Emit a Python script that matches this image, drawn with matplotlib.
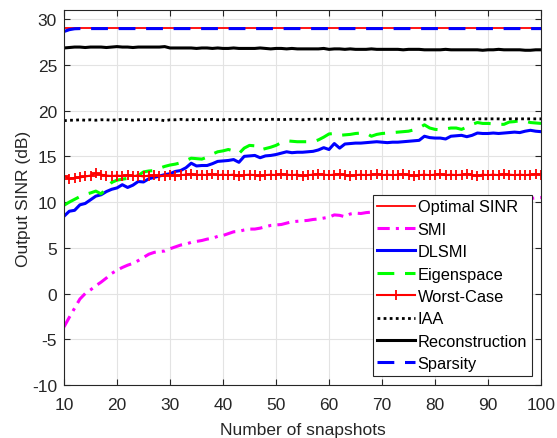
import matplotlib
matplotlib.use("Agg")
import matplotlib.pyplot as plt
import numpy as np

plt.rcParams['font.family'] = ['Liberation Sans', 'DejaVu Sans']
plt.rcParams['axes.unicode_minus'] = False

snapshots = list(range(10, 101))

optimal_sinr = [29.05] * len(snapshots)

smi = [-3.65, -2.6, -1.6, -0.6, 0.0, 0.4, 0.85, 1.25, 1.7, 2.2,
       2.55, 2.85, 3.1, 3.3, 3.6, 3.95, 4.3, 4.5, 4.6, 4.65,
       4.9, 5.1, 5.3, 5.4, 5.6, 5.7, 5.8, 5.95, 6.05, 6.25,
       6.35, 6.55, 6.75, 6.8, 6.95, 7.05, 7.05, 7.15, 7.3, 7.45,
       7.5, 7.55, 7.7, 7.85, 7.9, 7.95, 8.0, 8.1, 8.15, 8.25,
       8.35, 8.6, 8.55, 8.4, 8.7, 8.8, 8.75, 8.85, 8.9, 9.0,
       9.05, 9.1, 9.15, 9.2, 9.3, 9.35, 9.4, 9.45, 9.5, 9.55,
       9.6, 9.65, 9.7, 9.75, 9.8, 9.85, 9.9, 9.95, 9.95, 10.0,
       10.05, 10.1, 10.1, 10.15, 10.2, 10.25, 10.3, 10.35, 10.4, 10.45,
       10.5]

dlsmi = [8.45, 9.0, 9.1, 9.7, 9.85, 10.25, 10.65, 10.8, 11.15, 11.4,
         11.55, 11.9, 11.6, 11.85, 12.25, 12.2, 12.55, 12.7, 12.85, 13.0,
         13.1, 13.35, 13.45, 13.75, 14.25, 13.95, 14.0, 14.0, 14.2, 14.45,
         14.5, 14.55, 14.65, 14.35, 15.0, 15.05, 15.1, 14.85, 15.05, 15.1,
         15.2, 15.35, 15.5, 15.4, 15.45, 15.45, 15.5, 15.55, 15.7, 15.95,
         15.75, 16.4, 15.9, 16.35, 16.4, 16.45, 16.45, 16.5, 16.55, 16.6,
         16.55, 16.5, 16.55, 16.55, 16.6, 16.65, 16.7, 16.75, 17.2, 17.05,
         17.0, 17.0, 16.9, 17.2, 17.25, 17.3, 17.15, 17.3, 17.55, 17.5,
         17.5, 17.55, 17.5, 17.55, 17.6, 17.65, 17.6, 17.75, 17.85, 17.75,
         17.7]

eigenspace = [9.65, 10.0, 10.3, 10.6, 10.85, 11.0, 11.2, 10.9, 11.5, 12.15,
              12.4, 12.5, 12.6, 12.75, 12.9, 13.3, 13.4, 13.45, 13.7, 13.9,
              14.05, 14.15, 14.3, 14.55, 14.8, 14.75, 14.7, 14.9, 15.25, 15.5,
              15.6, 15.75, 15.6, 15.3, 15.9, 16.2, 16.15, 15.7, 15.85, 16.0,
              16.2, 16.5, 16.7, 16.65, 16.6, 16.6, 16.6, 16.6, 16.8, 17.1,
              17.45, 17.5, 17.3, 17.35, 17.4, 17.5, 17.55, 17.55, 17.2, 17.4,
              17.5, 17.55, 17.6, 17.65, 17.7, 17.75, 17.9, 18.1, 18.45, 18.1,
              17.95, 17.9, 18.0, 18.1, 18.1, 17.95, 18.2, 18.5, 18.7, 18.6,
              18.6, 18.55, 18.5, 18.5, 18.75, 18.8, 18.9, 18.85, 18.7, 18.65,
              18.6]

worst_case = [12.85, 12.55, 12.65, 12.7, 12.8, 12.9, 13.15, 13.0, 12.9, 12.85,
              12.9, 12.85, 12.95, 12.85, 12.9, 12.8, 12.9, 12.95, 12.85, 12.9,
              12.95, 12.9, 12.95, 13.0, 13.05, 12.95, 13.0, 12.95, 13.05, 12.95,
              13.0, 12.95, 13.0, 12.9, 12.95, 13.0, 12.95, 12.9, 12.95, 13.0,
              12.95, 13.05, 13.0, 12.95, 13.0, 12.9, 12.95, 13.0, 13.05, 13.0,
              12.95, 13.0, 13.05, 12.95, 12.9, 12.95, 13.0, 12.95, 13.0, 13.05,
              12.95, 13.0, 12.95, 13.0, 13.05, 12.95, 12.9, 12.95, 13.0, 12.95,
              13.0, 13.05, 12.95, 13.0, 12.95, 13.0, 13.05, 12.95, 12.9, 13.0,
              12.95, 13.0, 12.95, 13.05, 13.0, 12.95, 13.0, 12.95, 13.0, 13.05,
              13.0]

iaa = [18.9, 18.95, 18.95, 19.0, 18.95, 19.0, 18.95, 19.0, 19.0, 18.95,
       19.0, 19.05, 19.0, 18.95, 19.0, 19.0, 19.05, 19.0, 19.0, 18.9,
       19.0, 19.0, 19.05, 19.0, 19.0, 19.05, 19.0, 19.0, 19.05, 19.0,
       19.0, 19.05, 19.0, 19.05, 19.05, 19.0, 19.05, 19.05, 19.0, 19.05,
       19.05, 19.0, 19.05, 19.05, 19.05, 19.0, 19.05, 19.05, 19.1, 19.05,
       19.05, 19.05, 19.1, 19.05, 19.05, 19.1, 19.05, 19.1, 19.05, 19.1,
       19.1, 19.05, 19.1, 19.1, 19.05, 19.1, 19.1, 19.1, 19.05, 19.1,
       19.1, 19.1, 19.05, 19.1, 19.1, 19.1, 19.1, 19.05, 19.1, 19.1,
       19.1, 19.1, 19.1, 19.05, 19.1, 19.1, 19.1, 19.1, 19.1, 19.1,
       19.1]

reconstruction = [26.85, 26.9, 26.95, 26.95, 26.9, 26.95, 26.95, 26.95, 26.9, 26.95,
                  27.0, 26.95, 26.95, 26.9, 26.95, 26.95, 26.95, 26.95, 26.95, 27.0,
                  26.85, 26.85, 26.85, 26.85, 26.85, 26.8, 26.85, 26.85, 26.8, 26.85,
                  26.8, 26.8, 26.85, 26.8, 26.8, 26.8, 26.8, 26.85, 26.8, 26.75,
                  26.8, 26.8, 26.75, 26.8, 26.75, 26.75, 26.75, 26.75, 26.75, 26.8,
                  26.7, 26.75, 26.75, 26.7, 26.75, 26.7, 26.7, 26.7, 26.75, 26.7,
                  26.7, 26.7, 26.7, 26.7, 26.65, 26.7, 26.7, 26.7, 26.65, 26.65,
                  26.65, 26.65, 26.7, 26.65, 26.65, 26.65, 26.65, 26.65, 26.65, 26.6,
                  26.65, 26.65, 26.7, 26.65, 26.65, 26.65, 26.65, 26.6, 26.6, 26.65,
                  26.65]

sparsity = [28.65, 28.85, 28.95] + [28.97] * (len(snapshots) - 3)

fig = plt.figure(figsize=(5.57, 4.39), dpi=100)
ax = fig.add_axes([0.1149, 0.1207, 0.8564, 0.8542])

ax.plot(snapshots, optimal_sinr, color='#ff0000', lw=1.3, label='Optimal SINR')
ax.plot(snapshots, smi, color='#ff00ff', lw=2.2, ls=(0, (4, 2, 1, 2)), label='SMI')
ax.plot(snapshots, dlsmi, color='#0000ff', lw=2.2, label='DLSMI')
ax.plot(snapshots, eigenspace, color='#00ff00', lw=2.2, ls=(0, (5.5, 3.5)), label='Eigenspace')
ax.plot(snapshots, worst_case, color='#ff0000', lw=1.5, marker='+', ms=6.5, mew=1.3, label='Worst-Case')
ax.plot(snapshots, iaa, color='black', lw=2.0, ls=(0, (1, 1.2)), label='IAA')
ax.plot(snapshots, reconstruction, color='black', lw=2.2, label='Reconstruction')
ax.plot(snapshots, sparsity, color='#0000ff', lw=2.2, ls=(0, (5.5, 3.5)), label='Sparsity')

ax.set_xlim(10, 100)
ax.set_ylim(-10, 31)
ax.set_xticks(range(10, 101, 10))
ax.set_yticks(range(-10, 31, 5))
ax.grid(True, color='#e3e3e3', lw=0.8)
ax.set_axisbelow(True)
ax.tick_params(direction='in', top=True, right=True, labelsize=12.5, colors='#262626',
               length=4)
ax.tick_params(axis='x', pad=8.5)
ax.tick_params(axis='y', pad=5)
for s in ax.spines.values():
    s.set_color('#262626')
    s.set_linewidth(0.8)
ax.set_xlabel('Number of snapshots', fontsize=12.5, color='#262626', labelpad=7)
ax.set_ylabel('Output SINR (dB)', fontsize=12.5, color='#262626', labelpad=1)

leg = ax.legend(loc='lower right', fontsize=11.8, frameon=True, fancybox=False,
                edgecolor='#262626', framealpha=1, handlelength=2.3, handletextpad=0.15,
                labelspacing=0.45, borderpad=0.3, borderaxespad=0.55)
leg.get_frame().set_linewidth(0.8)

fig.savefig('out.png', dpi=100)
